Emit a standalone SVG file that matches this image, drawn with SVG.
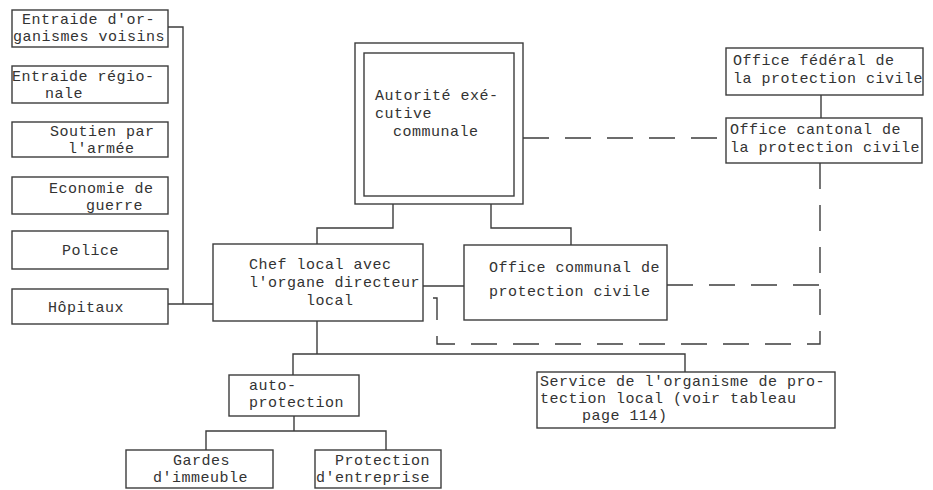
<svg xmlns="http://www.w3.org/2000/svg" width="933" height="490" viewBox="0 0 933 490">
<style>
.box{fill:none;stroke:#3c3c3c;stroke-width:1.4}
.ln{fill:none;stroke:#3c3c3c;stroke-width:1.4}
.dash{fill:none;stroke:#3c3c3c;stroke-width:1.4;stroke-dasharray:26 16}
text{font-family:"Liberation Mono","DejaVu Sans Mono",monospace;font-size:15px;letter-spacing:0.5px;fill:#333}
</style>
<rect width="933" height="490" fill="#fff"/>
<g id="connectors">
<path class="ln" d="M168,27 H183 V304 M168,304 H213"/>
<path class="ln" d="M393,204 V228 H317 V244"/>
<path class="ln" d="M491,204 V228 H571 V245"/>
<path class="ln" d="M821,95 V118"/>
<path class="ln" d="M423,286 H464"/>
<path class="ln" d="M317,321 V354 M293,375 V354 H685 V372"/>
<path class="ln" d="M294,416 V431 M206,450 V431 H386 V450"/>
<path class="dash" d="M523,138 H726"/>
<path class="dash" d="M667,285 H819"/>
<path class="dash" d="M820,163 V344 H437 V298 H423"/>
</g>
<g id="n-entraide-voisins"><rect class="box" x="12" y="10" width="156" height="37"/><text x="22" y="24">Entraide d'or-</text><text x="13" y="41">ganismes voisins</text></g>
<g id="n-entraide-regionale"><rect class="box" x="12" y="66" width="156" height="37"/><text x="12" y="81">Entraide régio-</text><text x="45" y="98">nale</text></g>
<g id="n-soutien"><rect class="box" x="12" y="122" width="156" height="35"/><text x="50" y="136">Soutien par</text><text x="68" y="153">l'armée</text></g>
<g id="n-economie"><rect class="box" x="12" y="177" width="156" height="37"/><text x="49" y="193">Economie de</text><text x="86" y="210">guerre</text></g>
<g id="n-police"><rect class="box" x="12" y="231" width="156" height="38"/><text x="62" y="255">Police</text></g>
<g id="n-hopitaux"><rect class="box" x="12" y="289" width="156" height="35"/><text x="48" y="312">Hôpitaux</text></g>
<g id="n-autorite"><rect class="box" x="355" y="43" width="168" height="161"/><rect class="box" x="364" y="53" width="150" height="143"/><text x="375" y="100">Autorité exé-</text><text x="375" y="118">cutive</text><text x="393" y="136">communale</text></g>
<g id="n-federal"><rect class="box" x="726" y="48" width="197" height="47"/><text x="733" y="65">Office fédéral de</text><text x="733" y="83">la protection civile</text></g>
<g id="n-cantonal"><rect class="box" x="726" y="118" width="196" height="45"/><text x="730" y="134">Office cantonal de</text><text x="730" y="152">la protection civile</text></g>
<g id="n-chef"><rect class="box" x="213" y="244" width="210" height="77"/><text x="249" y="269">Chef local avec</text><text x="249" y="287">l'organe directeur</text><text x="306" y="305">local</text></g>
<g id="n-office-communal"><rect class="box" x="464" y="245" width="203" height="75"/><text x="489" y="272">Office communal de</text><text x="489" y="296">protection civile</text></g>
<g id="n-auto"><rect class="box" x="229" y="375" width="130" height="41"/><text x="249" y="390">auto-</text><text x="249" y="407">protection</text></g>
<g id="n-service"><rect class="box" x="537" y="372" width="298" height="56"/><text x="540" y="386">Service de l'organisme de pro-</text><text x="540" y="403">tection local (voir tableau</text><text x="582" y="420">page 114)</text></g>
<g id="n-gardes"><rect class="box" x="126" y="450" width="147" height="38"/><text x="173" y="465">Gardes</text><text x="153" y="482">d'immeuble</text></g>
<g id="n-entreprise"><rect class="box" x="315" y="450" width="126" height="38"/><text x="335" y="465">Protection</text><text x="316" y="482">d'entreprise</text></g>
</svg>
